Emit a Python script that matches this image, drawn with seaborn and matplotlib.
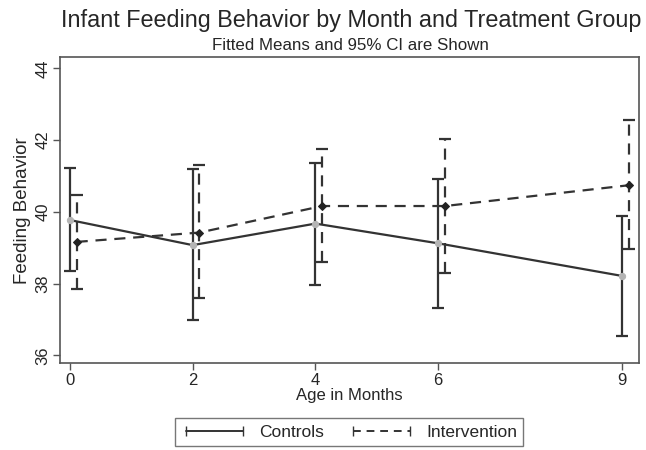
import matplotlib
matplotlib.use("Agg")
import matplotlib.pyplot as plt
from matplotlib.lines import Line2D
import pandas as pd
import seaborn as sns

# Fitted means and 95% CI
months = [0, 2, 4, 6, 9]
controls_mean = [39.77, 39.07, 39.67, 39.12, 38.21]
controls_lo = [38.35, 36.98, 37.97, 37.33, 36.53]
controls_hi = [41.23, 41.18, 41.37, 40.91, 39.89]
interv_mean = [39.16, 39.42, 40.16, 40.16, 40.74]
interv_lo = [37.84, 37.60, 38.59, 38.28, 38.95]
interv_hi = [40.48, 41.30, 41.74, 42.04, 42.55]

df = pd.concat([
    pd.DataFrame({'month': months, 'mean': controls_mean, 'lo': controls_lo,
                  'hi': controls_hi, 'group': 'Controls'}),
    pd.DataFrame({'month': months, 'mean': interv_mean, 'lo': interv_lo,
                  'hi': interv_hi, 'group': 'Intervention'}),
], ignore_index=True)

# small horizontal dodge so the intervals don't overlap
dodge = {'Controls': 0.0, 'Intervention': 0.11}
df['x'] = df['month'] + df['group'].map(dodge)

sns.set_theme(style="white")
plt.rcParams['font.family'] = ['Liberation Sans', 'DejaVu Sans']

fig = plt.figure(figsize=(6.46, 4.5), dpi=100)
ax = fig.add_axes([0.093, 0.193, 0.896, 0.68])

line_col = '#333333'
dash = (0, (5, 3.5))
styles = {
    'Controls': dict(ls='-', marker='o', mfc='#b4b4b4', mec='#b4b4b4', ms=4.5),
    'Intervention': dict(ls=dash, marker='D', mfc='#222222', mec='#222222', ms=4.5),
}

for grp, sub in df.groupby('group'):
    st = styles[grp]
    eb = ax.errorbar(sub['x'], sub['mean'],
                     yerr=[sub['mean'] - sub['lo'], sub['hi'] - sub['mean']],
                     fmt='none', ecolor=line_col, elinewidth=1.6, capsize=4,
                     capthick=1.6, zorder=2)
    eb[2][0].set_linestyle(st['ls'])
    sns.lineplot(data=sub, x='x', y='mean', ax=ax, color=line_col,
                 linewidth=1.6, linestyle=st['ls'], marker=st['marker'],
                 markerfacecolor=st['mfc'], markeredgecolor=st['mec'],
                 markersize=st['ms'], zorder=3)

ax.set_xlim(-0.16, 9.27)
ax.set_ylim(35.78, 44.31)
ax.set_xticks(months)
ax.set_yticks([36, 38, 40, 42, 44])
ax.tick_params(axis='both', which='both', direction='out', length=5,
               width=1, color='#555555', labelsize=12, bottom=True, left=True, pad=2)
plt.setp(ax.get_yticklabels(), rotation=90, va='center')
ax.set_xlabel('Age in Months', fontsize=12, labelpad=0)
ax.set_ylabel('Feeding Behavior', fontsize=13.5, labelpad=3)
for sp in ax.spines.values():
    sp.set_color('#555555')
    sp.set_linewidth(1.2)

fig.text(0.543, 0.954, 'Infant Feeding Behavior by Month and Treatment Group',
         ha='center', va='center', fontsize=16.8)
fig.text(0.543, 0.898, 'Fitted Means and 95% CI are Shown',
         ha='center', va='center', fontsize=12.2)

handles = [
    Line2D([], [], color=line_col, lw=1.4, ls='-', marker='|', ms=7),
    Line2D([], [], color=line_col, lw=1.4, ls=(0, (4, 3)), marker='|', ms=7),
]
fig.legend(handles, ['Controls', 'Intervention'], loc='center',
           bbox_to_anchor=(0.54, 0.04), ncol=2, numpoints=2, fontsize=12.5,
           frameon=True, fancybox=False, edgecolor='#555555',
           handlelength=3.9, columnspacing=1.4, borderpad=0.35, handletextpad=0.6)

fig.savefig('out.png', dpi=100, facecolor='white')
